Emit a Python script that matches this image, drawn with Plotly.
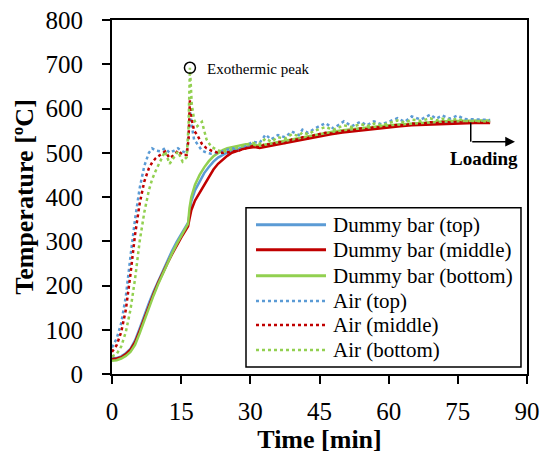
import plotly.graph_objects as go

# ---------------- data ----------------
t_dummy = [0, 1, 2, 3, 4, 5, 6, 7, 8, 9, 10, 11, 12, 13, 14, 15, 16, 16.5, 16.8, 17.2,
           18, 19, 20, 21, 22, 23, 24, 25, 26, 27, 28, 29, 30, 31, 32, 33, 35, 37.5, 40,
           42.5, 45, 47.5, 50, 52.5, 55, 57.5, 60, 62.5, 65, 67.5, 70, 72.5, 75, 77.5, 80, 82]

dummy_top = [35, 36, 40, 47, 57, 76, 103, 133, 160, 186, 210, 234, 257, 278, 298, 316, 333, 342, 360, 390,
             415, 436, 454, 468, 480, 489, 496, 501, 505, 508, 511, 513, 515, 516, 515, 517, 521, 526, 531,
             537, 542, 546, 550, 553, 556, 558, 561, 563, 565, 567, 568, 570, 571, 571, 572, 572]

dummy_middle = [34, 35, 38, 45, 55, 72, 98, 127, 155, 181, 206, 229, 250, 270, 290, 308, 325, 334, 350, 370,
                392, 410, 428, 445, 462, 475, 485, 493, 500, 504, 507, 510, 512, 513, 511, 513, 517, 522, 527,
                533, 538, 542, 546, 549, 552, 555, 557, 560, 562, 563, 565, 566, 567, 567, 568, 567]

dummy_bottom = [30, 31, 35, 41, 50, 66, 92, 122, 150, 177, 203, 227, 250, 272, 293, 312, 330, 340, 375, 400,
                428, 450, 467, 481, 492, 500, 506, 510, 513, 515, 517, 519, 519, 517, 516, 518, 522, 527, 532,
                538, 543, 547, 551, 554, 557, 559, 562, 564, 566, 568, 569, 571, 572, 573, 573, 573]

t_air = [0, 1, 2, 3, 4, 5, 6, 7, 8, 8.7, 9.5, 10.5, 11.5, 12.5, 13.5, 14.3, 15.3, 16.2, 16.6, 16.9,
         17.3, 17.8, 18.5, 19.5, 20.5, 21.5, 23, 24.5, 26, 27.5, 29, 30.5, 32, 33.3, 34.5, 36, 37.5,
         39, 40.5, 41.3, 42.5, 44, 46.3, 48, 50.3, 52, 53.9, 55.3, 56.8, 58.5, 60, 61.9, 63.5, 65,
         67, 69, 70.3, 71.6, 73.3, 74.9, 76.5, 78, 80, 82]

air_top = [60, 80, 115, 175, 265, 350, 420, 470, 500, 510, 505, 503, 510, 500, 505, 510, 503, 499, 540, 600,
           560, 530, 520, 505, 500, 498, 500, 505, 510, 508, 515, 525, 522, 541, 530, 540, 535,
           548, 540, 552, 545, 555, 567, 555, 571, 560, 570, 562, 571, 564, 570, 578, 570, 582,
           575, 586, 577, 584, 577, 584, 576, 576, 575, 574]

air_middle = [50, 65, 95, 145, 225, 315, 385, 435, 465, 478, 488, 496, 503, 488, 495, 505, 495, 495, 530, 620,
              575, 550, 540, 520, 510, 505, 500, 500, 502, 505, 510, 515, 512, 520, 518, 525, 522,
              530, 530, 535, 533, 540, 545, 543, 550, 550, 555, 553, 558, 557, 560, 563, 562, 566,
              565, 569, 567, 570, 569, 571, 570, 570, 570, 569]

air_bottom = [40, 45, 62, 95, 145, 215, 300, 365, 415, 440, 460, 480, 503, 475, 490, 503, 480, 490, 560, 692,
              610, 575, 560, 570, 530, 514, 505, 503, 508, 512, 518, 522, 520, 532, 525, 535, 532,
              542, 538, 546, 542, 550, 558, 552, 562, 558, 565, 560, 566, 562, 567, 573, 568, 575,
              572, 578, 573, 577, 574, 576, 572, 572, 572, 571]

series_names = ["Dummy bar (top)", "Dummy bar (middle)", "Dummy bar (bottom)",
                "Air (top)", "Air (middle)", "Air (bottom)"]
colors = ["#5B9BD5", "#C00000", "#92D050"]

peak_time = [16.9]
peak_temp = [692]
peak_label = "Exothermic peak"

loading_time = [77.8, 87.4]
loading_temp = [568, 525]
loading_label = "Loading"

x_ticks = [0, 15, 30, 45, 60, 75, 90]
y_ticks = [0, 100, 200, 300, 400, 500, 600, 700, 800]

FONT = "Liberation Serif"

# ---------------- figure ----------------
fig = go.Figure()

dummy_series = [dummy_top, dummy_middle, dummy_bottom]
air_series = [air_top, air_middle, air_bottom]

for i, ys in enumerate(dummy_series):
    fig.add_trace(go.Scatter(x=t_dummy, y=ys, mode="lines", name=series_names[i],
                             line=dict(color=colors[i], width=2.5), showlegend=False))
for i, ys in enumerate(air_series):
    fig.add_trace(go.Scatter(x=t_air, y=ys, mode="lines", name=series_names[3 + i],
                             line=dict(color=colors[i], width=2.5, dash="dot"), showlegend=False))

# exothermic peak marker
fig.add_trace(go.Scatter(x=peak_time, y=peak_temp, mode="markers", showlegend=False,
                         marker=dict(symbol="circle-open", size=11, color="black",
                                     line=dict(width=1.5, color="black"))))
fig.add_annotation(x=peak_time[0] + 3.2, y=peak_temp[0] - 2, text=peak_label, showarrow=False,
                   xanchor="left", yanchor="middle",
                   font=dict(family=FONT, size=15, color="black"))

# loading arrow
fig.add_shape(type="line", xref="x", yref="y",
              x0=loading_time[0], x1=loading_time[0], y0=loading_temp[0], y1=loading_temp[1],
              line=dict(color="black", width=1.5))
fig.add_annotation(x=loading_time[1], y=loading_temp[1], ax=loading_time[0], ay=loading_temp[1],
                   xref="x", yref="y", axref="x", ayref="y", text="", showarrow=True,
                   arrowhead=2, arrowsize=1.3, arrowwidth=1.5, arrowcolor="black")
fig.add_annotation(x=80.6, y=488, text="<b>" + loading_label + "</b>", showarrow=False,
                   xanchor="center", yanchor="middle",
                   font=dict(family=FONT, size=19, color="black"))

# manual legend (long line samples like the original)
box = dict(x0=0.3229, x1=0.9855, y0=0.0198, y1=0.4696)
fig.add_shape(type="rect", xref="paper", yref="paper", **box,
              line=dict(color="black", width=1.5), fillcolor="white", layer="above")
entry_y = [0.4215, 0.3508, 0.2772, 0.2065, 0.1386, 0.0679]
for k, name in enumerate(series_names):
    c = colors[k % 3]
    dash = "solid" if k < 3 else "dot"
    fig.add_shape(type="line", xref="paper", yref="paper", x0=0.347, x1=0.5157,
                  y0=entry_y[k], y1=entry_y[k], layer="above",
                  line=dict(color=c, width=3 if k < 3 else 2.5, dash=dash))
    fig.add_annotation(xref="paper", yref="paper", x=0.528, y=entry_y[k], text=name,
                       showarrow=False, xanchor="left", yanchor="middle",
                       font=dict(family=FONT, size=21, color="black"))

axis_common = dict(showgrid=False, zeroline=False, showline=True, linecolor="black", linewidth=2,
                   mirror=True, ticks="outside", ticklen=8, tickwidth=2, tickcolor="black",
                   tickfont=dict(family=FONT, size=25, color="black"))

fig.update_xaxes(range=[0, 90], tickvals=x_ticks, ticktext=[str(v) for v in x_ticks],
                 title=dict(text="<b>Time [min]</b>", font=dict(family=FONT, size=26, color="black"),
                            standoff=3),
                 ticklabelstandoff=6, **axis_common)
fig.update_yaxes(range=[0, 800], tickvals=y_ticks, ticktext=[str(v) for v in y_ticks],
                 title=dict(text="<b>Temperature [ºC]</b>", font=dict(family=FONT, size=26, color="black"),
                            standoff=4),
                 ticklabelstandoff=14, **axis_common)

fig.update_layout(width=541, height=454, margin=dict(l=112, r=14, t=20, b=80, autoexpand=False),
                  plot_bgcolor="white", paper_bgcolor="white", showlegend=False)

fig.write_html("out.html")
